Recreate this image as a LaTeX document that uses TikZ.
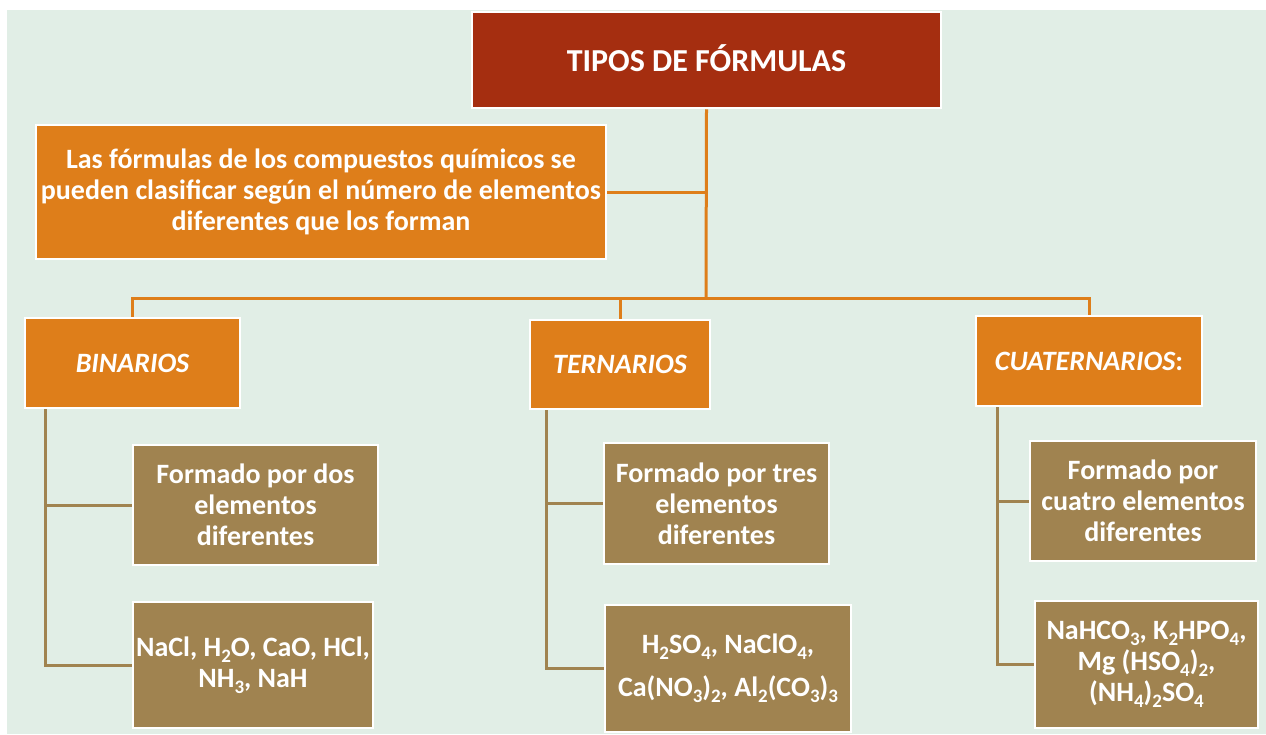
\documentclass[tikz,border=0pt]{standalone}
\usepackage{fontspec}
\setmainfont{Carlito}
\definecolor{bgc}{HTML}{E1EEE6}
\definecolor{redc}{HTML}{A52E10}
\definecolor{orc}{HTML}{DE7E1A}
\definecolor{brc}{HTML}{A08350}
\newcommand\sbs[1]{\raisebox{-6pt}{\fontsize{19}{19}\selectfont #1}}
\begin{document}
\begin{tikzpicture}[x=1pt,y=-1pt,
  box/.style={draw=white,line width=2.5pt,rectangle,align=center,text=white,font=\bfseries\fontsize{28}{31}\selectfont,inner sep=1pt},
  redbox/.style={box,fill=redc},
  orbox/.style={box,fill=orc},
  brbox/.style={box,fill=brc},
  oline/.style={draw=orc,line width=3pt},
  bline/.style={draw=brc,line width=3pt}]
\useasboundingbox (0,0) rectangle (1266,734);
\fill[bgc] (7,10) rectangle (1266,734);
% top
\node[redbox,minimum width=469pt,minimum height=96pt] (title) at (706.5,60) {};
\node[text=white,font=\bfseries\fontsize{32}{36}\selectfont] (tt) at (706.5,58) {TIPOS DE FÓRMULAS};
\node[orbox,minimum width=570pt,minimum height=134pt] (desc) at (321,192) {Las fórmulas de los compuestos químicos se\\pueden clasificar según el número de elementos\\diferentes que los forman};
% categories
\node[orbox,minimum width=215pt,minimum height=90pt] (bin) at (132.5,363) {\itshape BINARIOS};
\node[orbox,minimum width=180pt,minimum height=89pt] (ter) at (620,364.5) {\itshape TERNARIOS};
\node[orbox,minimum width=226pt,minimum height=90pt] (cua) at (1089,361) {{\itshape CUATERNARIOS}:};
% details
\node[brbox,minimum width=245pt,minimum height=120pt] (bd) at (255.5,505) {Formado por dos\\elementos\\diferentes};
\node[brbox,minimum width=240pt,minimum height=126pt] (be) at (253,665) {NaCl, H\sbs{2}O, CaO, HCl,\\NH\sbs{3}, NaH};
\node[brbox,minimum width=225pt,minimum height=121pt] (td) at (716.5,503.5) {Formado por tres\\elementos\\diferentes};
\node[brbox,minimum width=246pt,minimum height=127pt] (te) at (728,668.5) {H\sbs{2}SO\sbs{4}, NaClO\sbs{4},\\[12pt]Ca(NO\sbs{3})\sbs{2}, Al\sbs{2}(CO\sbs{3})\sbs{3}};
\node[brbox,minimum width=226pt,minimum height=120pt] (cd) at (1143,501) {Formado por\\cuatro elementos\\diferentes};
\node[brbox,minimum width=223pt,minimum height=127pt] (ce) at (1146.5,664.5) {NaHCO\sbs{3}, K\sbs{2}HPO\sbs{4},\\Mg (HSO\sbs{4})\sbs{2},\\(NH\sbs{4})\sbs{2}SO\sbs{4}};
% connectors
\coordinate (j) at (706,298);
\draw[oline] (title.south) -- (j);
\draw[oline] (desc.east) -- (desc.east -| j);
\draw[oline] (bin.north) |- (j) -| (cua.north);
\draw[oline] (ter.north) -- (ter.north |- j);
\coordinate (bt) at ([xshift=22pt]bin.south west);
\coordinate (tt2) at ([xshift=18pt]ter.south west);
\coordinate (ct) at ([xshift=23pt]cua.south west);
\draw[bline] (bt) |- (bd.west);
\draw[bline] (bt) |- (be.west);
\draw[bline] (tt2) |- (td.west);
\draw[bline] (tt2) |- (te.west);
\draw[bline] (ct) |- (cd.west);
\draw[bline] (ct) |- (ce.west);
\end{tikzpicture}
\end{document}
